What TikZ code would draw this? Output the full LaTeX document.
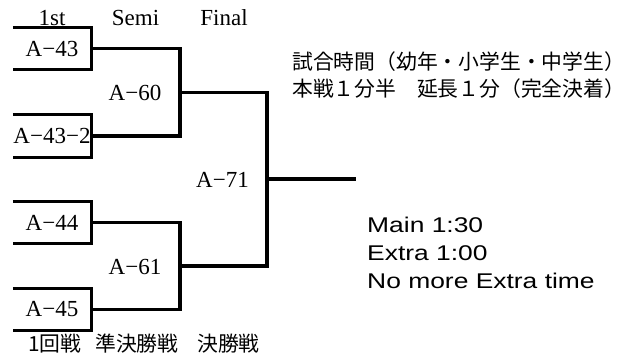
\documentclass[tikz,border=0pt]{standalone}
\usepackage{fontspec}
\setmainfont{Liberation Serif}
\newfontfamily\jpfont{Noto Sans CJK JP}
\newfontfamily\enfont[FakeStretch=1.24]{Liberation Sans}
\begin{document}
\begin{tikzpicture}[x=1pt,y=1pt,
  bline/.style={line width=3.2pt,line join=miter},
  entrybox/.style={minimum width=78pt,minimum height=42pt,inner sep=0pt,
    font=\fontsize{23}{23}\selectfont},
  roundlbl/.style={inner sep=0pt,font=\fontsize{23}{23}\selectfont},
  jptext/.style={inner sep=0pt,anchor=west,font=\jpfont\fontsize{20.8}{20.8}\selectfont},
  entext/.style={inner sep=0pt,anchor=base west,font=\enfont\fontsize{21.3}{21.3}\selectfont}]
\useasboundingbox (0,0) rectangle (626,-360);
% header
\node[roundlbl,anchor=base] (h1) at (52,-25) {1st};
\node[roundlbl,anchor=base] (h2) at (135.5,-25) {Semi};
\node[roundlbl,anchor=base] (h3) at (224,-25) {Final};
% entry boxes
\node[entrybox] (a43) at (52,-48.5) {A−43};
\node[entrybox] (a43b) at (52,-136) {A−43−2};
\node[entrybox] (a44) at (52,-222.5) {A−44};
\node[entrybox] (a45) at (52,-309.5) {A−45};
\foreach \b in {a43,a43b,a44,a45}
  \draw[bline] (\b.north west) -- (\b.north east) -- (\b.south east) -- (\b.south west);
% junctions
\coordinate (j60) at (180,-92.25);
\coordinate (j61) at (180,-266);
\coordinate (j71) at (267,-179);
\coordinate (champ) at (356,-179);
\draw[bline] (a43.east) -| (j60) |- (a43b.east);
\draw[bline] (a44.east) -| (j61) |- (a45.east);
\draw[bline] (j60) -| (j71) |- (j61);
\draw[bline] (j71) -- (champ);
% match labels
\node[roundlbl] (m60) at (135,-93) {A−60};
\node[roundlbl] (m61) at (135,-267) {A−61};
\node[roundlbl] (m71) at (222.5,-180) {A−71};
% notes
\node[jptext] (n1) at (292,-62) {試合時間（幼年・小学生・中学生）};
\node[jptext] (n2) at (292,-89) {本戦１分半　延長１分（完全決着）};
\node[entext] (e1) at (367,-232) {Main 1:30};
\node[entext] (e2) at (367,-260) {Extra 1:00};
\node[entext] (e3) at (367,-288) {No more Extra time};
% footer
\node[jptext] (f1) at (28,-343.5) {1回戦};
\node[jptext] (f2) at (95,-343.5) {準決勝戦};
\node[jptext] (f3) at (197,-343.5) {決勝戦};
\end{tikzpicture}
\end{document}
